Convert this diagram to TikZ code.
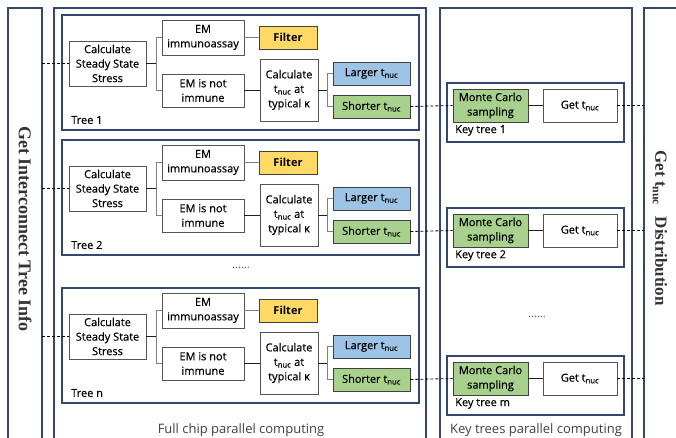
\documentclass[tikz,border=0pt]{standalone}
\usepackage{fontspec}
\setmainfont{Open Sans}[UprightFeatures={FakeBold=0.5}]
\newfontfamily\capfont{Open Sans}
\newfontfamily\serifbold{Liberation Serif}
\usetikzlibrary{calc}
\definecolor{navy}{RGB}{52,72,110}
\definecolor{lnk}{RGB}{30,30,30}
\definecolor{lgray}{RGB}{128,128,128}
\definecolor{bord}{RGB}{85,85,85}
\definecolor{yel}{RGB}{255,217,102}
\definecolor{blu}{RGB}{157,195,230}
\definecolor{grn}{RGB}{169,209,142}
\definecolor{captxt}{RGB}{64,64,64}
\begin{document}
\begin{tikzpicture}[x=1pt,y=-1pt,
  box/.style={draw=bord, line width=0.9pt, fill=white, align=center, inner sep=1pt,
    font=\fontsize{11}{14.5}\selectfont, text=black},
  cbox/.style={box, draw=black!75},
  panel/.style={draw=navy, line width=1.1pt},
  conn/.style={draw=lnk, line width=0.8pt},
  gconn/.style={draw=lgray, line width=0.8pt},
  dashln/.style={draw=black, line width=0.8pt, dashed, dash pattern=on 3pt off 2pt},
  lbl/.style={anchor=west, inner sep=0pt, font=\fontsize{11}{13}\selectfont},
  captn/.style={inner sep=0pt, text=captxt, font=\capfont\fontsize{13}{15}\selectfont},
  side/.style={inner sep=0pt, rotate=-90, font=\serifbold\bfseries\fontsize{17}{20}\selectfont, text=black!80},
  dots/.style={inner sep=0pt, text=black!70, font=\capfont\fontsize{11}{12}\selectfont}
]
\useasboundingbox (0,0) rectangle (676,438);
% outer panels
\draw[panel] (8,440) -- (8,8) -- (42,8) -- (42,440);
\draw[panel] (54,440) -- (54,8) -- (426,8) -- (426,440);
\draw[panel] (440,440) -- (440,8) -- (632,8) -- (632,440);
\draw[panel] (644,440) -- (644,8) -- (678,8);
\node[side, font=\serifbold\bfseries\fontsize{18}{20}\selectfont] (lside) at (25,229) {Get Interconnect Tree Info};
\node[side] (rside) at (660,228) {Get t\textsubscript{nuc}\hspace{0.4em} Distribution};
\node[captn] (cfull) at (241,430) {Full chip parallel computing};
\node[captn] (ckey) at (536,430) {Key trees parallel computing};
\node[dots] (dots1) at (241,268) {......};
\node[dots] (dots2) at (537,317) {......};

\foreach \o/\t/\k [count=\i] in {0/1/1, 125/2/2, 273/n/m} {
  \node[panel, minimum width=357, minimum height=115, inner sep=0pt] (tree\i) at (240.5,72.5+\o) {};
  \node[lbl] (tl\i) at (71,120+\o) {Tree \t};
  \node[box, minimum width=77, minimum height=45] (stress\i) at (107.5,63.5+\o) {Calculate\\Steady State\\Stress};
  \node[box, minimum width=82, minimum height=35] (emi\i) at (203,37.5+\o) {EM\\immunoassay};
  \node[cbox, fill=yel, minimum width=58, minimum height=23] (filt\i) at (288,37.5+\o) {\textbf{Filter}};
  \node[box, minimum width=82, minimum height=33] (emn\i) at (203,90.5+\o) {EM is not\\immune};
  \node[box, minimum width=58, minimum height=62] (calc\i) at (289,90+\o) {Calculate\\t\textsubscript{nuc} at\\typical κ};
  \node[cbox, fill=blu, minimum width=77, minimum height=23] (larg\i) at (371.5,73.5+\o) {Larger t\textsubscript{nuc}};
  \node[cbox, fill=grn, minimum width=77, minimum height=23] (shor\i) at (371.5,106.5+\o) {Shorter t\textsubscript{nuc}};
  \coordinate (ba\i) at (156,63.5+\o);
  \coordinate (bb\i) at (327,90+\o);
  \draw[conn] (stress\i.east) -- (ba\i);
  \draw[gconn] (ba\i) |- (emi\i.west);
  \draw[gconn] (ba\i) |- (emn\i.west);
  \draw[gconn] (emi\i.east) -- (filt\i.west);
  \draw[conn] (emn\i.east) -- (emn\i.east -| calc\i.west);
  \draw[conn] (calc\i.east) -- (bb\i);
  \draw[gconn] (bb\i) |- (larg\i.west);
  \draw[gconn] (bb\i) |- (shor\i.west);
  % key tree
  \node[panel, minimum width=177, minimum height=59, inner sep=0pt] (key\i) at (535.5,112.5+\o) {};
  \node[lbl] (kl\i) at (455,130.5+\o) {Key tree \k};
  \node[cbox, fill=grn, minimum width=75, minimum height=33] (mc\i) at (490.5,105.5+\o) {Monte Carlo\\sampling};
  \node[box, minimum width=74, minimum height=33] (get\i) at (580,105.5+\o) {Get t\textsubscript{nuc}};
  \draw[conn] (mc\i.east) -- (get\i.west);
  \coordinate (lp\i) at (42,63.5+\o);
  \coordinate (rp\i) at (644,105.5+\o);
  \draw[dashln] (lp\i) -- (stress\i.west);
  \draw[dashln] (shor\i.east) -- (mc\i.west);
  \draw[dashln] (get\i.east) -- (rp\i);
}
\end{tikzpicture}
\end{document}
